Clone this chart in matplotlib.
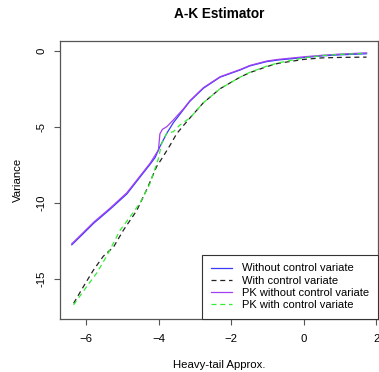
import numpy as np
import matplotlib.pyplot as plt

plt.rcParams["font.family"] = ["Liberation Sans", "DejaVu Sans"]

# Heavy-tail approximation (x) and log variance for each estimator
x_blue = [-6.40, -6.1, -5.80, -5.34, -4.88, -4.52, -4.24, -4.1, -3.97, -3.78,
          -3.6, -3.32, -3.14, -2.77, -2.31, -1.76, -1.49, -1.03, -0.71, 0.0,
          0.5, 1.0, 1.73]
y_blue = [-12.75, -12.05, -11.34, -10.4, -9.4, -8.3, -7.45, -7.0, -6.29, -5.41,
          -4.72, -3.85, -3.3, -2.45, -1.72, -1.25, -0.98, -0.70, -0.59, -0.43,
          -0.32, -0.25, -0.18]

x_purple = [-6.40, -6.1, -5.80, -5.34, -4.88, -4.52, -4.24, -4.01, -3.97,
            -3.9, -3.78, -3.6, -3.32, -3.14, -2.77, -2.31, -1.76, -1.49, -1.03,
            -0.71, 0.0, 0.5, 1.0, 1.73]
y_purple = [-12.68, -11.98, -11.27, -10.33, -9.32, -8.23, -7.38, -6.51, -5.45,
            -5.15, -4.98, -4.54, -3.8, -3.26, -2.41, -1.69, -1.22, -0.95, -0.66,
            -0.55, -0.38, -0.28, -0.2, -0.12]

x_black = [-6.35, -6.08, -5.80, -5.53, -5.44, -5.25, -4.98, -4.61, -4.33, -4.06,
           -3.87, -3.69, -3.51, -3.32, -3.14, -2.77, -2.31, -1.76, -1.49, -1.03,
           -0.71, 0.0, 0.5, 1.0, 1.73]
y_black = [-16.6, -15.5, -14.4, -13.5, -13.3, -12.9, -11.8, -10.5, -9.1, -7.6,
           -6.9, -6.2, -5.45, -4.9, -4.4, -3.4, -2.48, -1.72, -1.42, -1.03,
           -0.81, -0.55, -0.45, -0.42, -0.4]

x_green = [-6.35, -5.99, -5.71, -5.44, -5.07, -4.79, -4.52, -4.24, -4.01, -3.92,
           -3.78, -3.6, -3.42, -3.14, -2.77, -2.31, -1.76, -1.49, -1.03, -0.71,
           0.0, 0.5, 1.0, 1.73]
y_green = [-16.7, -15.5, -14.6, -13.5, -11.8, -10.9, -10.0, -8.7, -7.06, -6.07,
           -5.41, -5.31, -4.87, -4.4, -3.4, -2.48, -1.72, -1.40, -1.0, -0.78,
           -0.45, -0.3, -0.22, -0.15]

labels = ["Without control variate", "With control variate",
          "PK without control variate", "PK with control variate"]

fig = plt.figure(figsize=(3.79, 3.72), dpi=100)
ax = fig.add_axes([60 / 379, 1 - 319 / 372, 318 / 379, 278 / 372])

ax.plot(x_blue, y_blue, color="#3a3aff", lw=0.9, label=labels[0])
ax.plot(x_black, y_black, color="#222222", lw=0.9, ls=(0, (4, 3)), label=labels[1])
ax.plot(x_purple, y_purple, color="#a040f0", lw=0.9, label=labels[2])
ax.plot(x_green, y_green, color="#33ee33", lw=0.9, ls=(0, (4, 3)), label=labels[3])

ax.set_xlim(-6.725, 2.045)
ax.set_ylim(-17.63, 0.66)
ax.set_xticks([-6, -4, -2, 0, 2])
ax.set_yticks([0, -5, -10, -15])
ax.set_yticklabels(["0", "-5", "-10", "-15"], rotation=90, va="center")
ax.tick_params(labelsize=8.2, length=4.5, width=0.8, color="#555555")
ax.tick_params(axis="x", pad=6.5)
ax.tick_params(axis="y", pad=5)

for s in ax.spines.values():
    s.set_color("#555555")
    s.set_linewidth(0.9)

ax.set_xlabel("Heavy-tail Approx.", fontsize=8.2, labelpad=11)
ax.set_ylabel("Variance", fontsize=8.2, labelpad=10)
fig.text(219 / 379, 1 - 14 / 372, "A-K Estimator", ha="center", va="center",
         fontsize=9.8, fontweight="bold")

leg = ax.legend(loc="lower right", fontsize=8.0, frameon=True, fancybox=False,
                edgecolor="#333333", framealpha=1, handlelength=1.9,
                borderaxespad=0, labelspacing=0.2, borderpad=0.8,
                handletextpad=0.9)
leg.get_frame().set_linewidth(0.8)

fig.savefig("out.png", dpi=100)
